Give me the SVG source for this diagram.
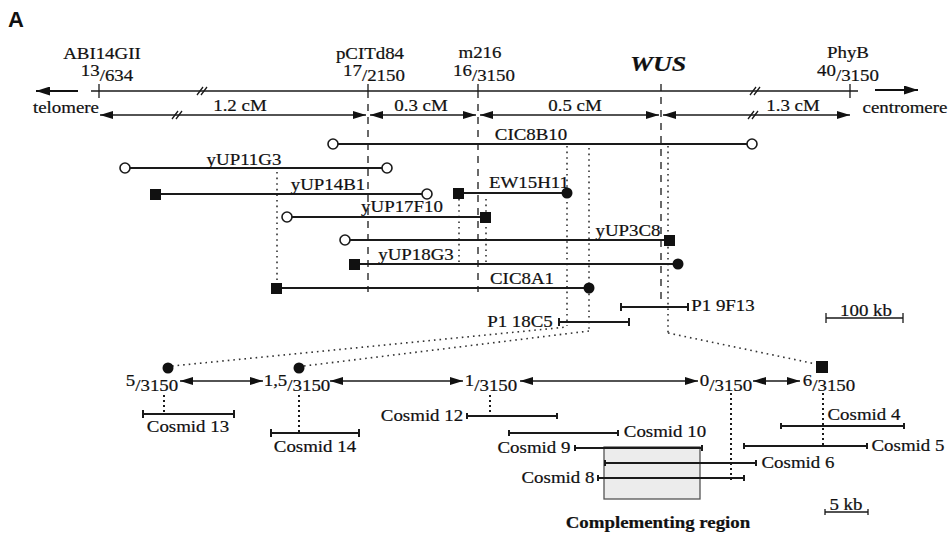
<svg xmlns="http://www.w3.org/2000/svg" width="948" height="538" viewBox="0 0 948 538">
<defs>
<style>
text{font-family:"Liberation Serif","Times New Roman",serif;font-size:16px;fill:#111;stroke:#111;stroke-width:0.2;text-anchor:middle;transform-box:fill-box;transform-origin:center;transform:scaleX(1.18)}
.big{font-size:22px;font-weight:bold;font-style:italic}
.bold{font-weight:bold}
.panel{font-family:"Liberation Sans",Arial,sans-serif;font-size:22px;font-weight:bold;text-anchor:start;transform:none;stroke:none}
.ln{stroke:#1a1a1a;stroke-width:1.3;fill:none}
.clone{stroke:#1a1a1a;stroke-width:2;fill:none}
.dash{stroke:#1a1a1a;stroke-width:1.3;fill:none;stroke-dasharray:7 6}
.dot{stroke:#333;stroke-width:1.6;fill:none;stroke-dasharray:1.6 4}
.dot2{stroke:#1a1a1a;stroke-width:2;fill:none;stroke-dasharray:2 3}
.oc{fill:#fff;stroke:#1a1a1a;stroke-width:1.6}
.fc{fill:#111}
.arr{stroke:#1a1a1a;stroke-width:1.4;fill:none;marker-start:url(#ah);marker-end:url(#ah)}
</style>
<marker id="ah" viewBox="0 0 13 8" refX="13" refY="4" markerWidth="13" markerHeight="8" markerUnits="userSpaceOnUse" orient="auto-start-reverse">
<path d="M0,0 L13,4 L0,8 z" fill="#111"/>
</marker>
<marker id="ahe" viewBox="0 0 14 9" refX="14" refY="4.5" markerWidth="14" markerHeight="9" markerUnits="userSpaceOnUse" orient="auto">
<path d="M0,0 L14,4.5 L0,9 z" fill="#111"/>
</marker>
</defs>
<rect width="948" height="538" fill="#fff"/>
<text class="panel" x="8" y="27">A</text>

<g id="genetic-map">
<line class="ln" x1="91" y1="91" x2="858" y2="91"/>
<line class="ln" x1="99" y1="84" x2="99" y2="98"/>
<line class="ln" x1="368" y1="84" x2="368" y2="98"/>
<line class="ln" x1="478" y1="84" x2="478" y2="98"/>
<line class="ln" x1="850" y1="84" x2="850" y2="98"/>
<path class="ln" d="M197,95 L203,87 M201,95 L207,87 M750,95 L756,87 M754,95 L760,87"/>
<line x1="78" y1="91" x2="36" y2="91" stroke="#111" stroke-width="2" marker-end="url(#ahe)"/>
<line x1="875" y1="90" x2="918" y2="90" stroke="#111" stroke-width="2" marker-end="url(#ahe)"/>
<text x="66" y="113">telomere</text>
<text x="905" y="113">centromere</text>
<text x="102" y="59">ABI14GII</text>
<text x="107" y="81"><tspan dy="-5">13</tspan><tspan dy="5">/634</tspan></text>
<text x="370" y="59">pCITd84</text>
<text x="374" y="81"><tspan dy="-5">17</tspan><tspan dy="5">/2150</tspan></text>
<text x="480" y="58">m216</text>
<text x="484" y="81"><tspan dy="-5">16</tspan><tspan dy="5">/3150</tspan></text>
<text class="big" x="658" y="71">WUS</text>
<text x="848" y="58">PhyB</text>
<text x="848" y="81"><tspan dy="-5">40</tspan><tspan dy="5">/3150</tspan></text>
</g>

<g id="distances">
<line class="arr" x1="100" y1="115" x2="366" y2="115"/>
<line class="arr" x1="370" y1="115" x2="476" y2="115"/>
<line class="arr" x1="480" y1="115" x2="659" y2="115"/>
<line class="arr" x1="663" y1="115" x2="850" y2="115"/>
<path class="ln" d="M172,119 L178,111 M176,119 L182,111 M748,119 L754,111 M752,119 L758,111"/>
<text x="240" y="111">1.2 cM</text>
<text x="421" y="111">0.3 cM</text>
<text x="575" y="111">0.5 cM</text>
<text x="793" y="111">1.3 cM</text>
</g>

<g id="connectors">
<line class="dash" x1="368" y1="104" x2="368" y2="292"/>
<line class="dash" x1="478" y1="104" x2="478" y2="292"/>
<line class="dash" x1="661" y1="84" x2="661" y2="300"/>
<line class="dot" x1="277" y1="172" x2="277" y2="283"/>
<line class="dot" x1="459" y1="199" x2="459" y2="262"/>
<line class="dot" x1="486" y1="199" x2="486" y2="262"/>
<line class="dot" x1="567" y1="146" x2="567" y2="326"/>
<line class="dot" x1="589" y1="148" x2="589" y2="330"/>
<line class="dot" x1="668" y1="146" x2="668" y2="333"/>
<line class="dot" x1="172" y1="366" x2="567" y2="327"/>
<line class="dot" x1="304" y1="366" x2="589" y2="331"/>
<line class="dot" x1="668" y1="333" x2="816" y2="364"/>
<line class="dot2" x1="164" y1="395" x2="164" y2="413"/>
<line class="dot2" x1="299" y1="395" x2="299" y2="432"/>
<line class="dot2" x1="490" y1="395" x2="490" y2="416"/>
<line class="dot2" x1="731" y1="393" x2="731" y2="480"/>
<line class="dot2" x1="823" y1="393" x2="823" y2="446"/>
</g>

<g id="CIC8B10">
<line class="clone" x1="333" y1="144" x2="752" y2="144"/>
<circle class="oc" cx="333" cy="144" r="5"/><circle class="oc" cx="752" cy="144" r="5"/>
<text x="531" y="140">CIC8B10</text>
</g>
<g id="yUP11G3">
<line class="clone" x1="125" y1="168" x2="387" y2="168"/>
<circle class="oc" cx="125" cy="168" r="5"/><circle class="oc" cx="387" cy="168" r="5"/>
<text x="244" y="165">yUP11G3</text>
</g>
<g id="yUP14B1">
<line class="clone" x1="155" y1="194" x2="427" y2="194"/>
<rect class="fc" x="150" y="189" width="11" height="11"/><circle class="oc" cx="427" cy="194" r="5"/>
<text x="328" y="190">yUP14B1</text>
</g>
<g id="EW15H11">
<line class="clone" x1="458" y1="193" x2="567" y2="193"/>
<rect class="fc" x="453" y="188" width="11" height="11"/><circle class="fc" cx="567" cy="193" r="5.5"/>
<text x="529" y="188">EW15H11</text>
</g>
<g id="yUP17F10">
<line class="clone" x1="287" y1="217" x2="485" y2="217"/>
<circle class="oc" cx="287" cy="217" r="5"/><rect class="fc" x="480" y="212" width="11" height="11"/>
<text x="402" y="212">yUP17F10</text>
</g>
<g id="yUP3C8">
<line class="clone" x1="345" y1="240" x2="669" y2="240"/>
<circle class="oc" cx="345" cy="240" r="5"/><rect class="fc" x="664" y="235" width="11" height="11"/>
<text x="628" y="236">yUP3C8</text>
</g>
<g id="yUP18G3">
<line class="clone" x1="354" y1="264" x2="678" y2="264"/>
<rect class="fc" x="349" y="259" width="11" height="11"/><circle class="fc" cx="678" cy="264" r="5.5"/>
<text x="416" y="260">yUP18G3</text>
</g>
<g id="CIC8A1">
<line class="clone" x1="276" y1="288" x2="589" y2="288"/>
<rect class="fc" x="271" y="283" width="11" height="11"/><circle class="fc" cx="589" cy="288" r="5.5"/>
<text x="522" y="284">CIC8A1</text>
</g>
<g id="P1-9F13">
<path class="clone" d="M621,307 H688 M621,303 V311 M688,303 V311"/>
<text x="723" y="311">P1 9F13</text>
</g>
<g id="P1-18C5">
<path class="clone" d="M559,322 H629 M559,318 V326 M629,318 V326"/>
<text x="520" y="327">P1 18C5</text>
</g>
<g id="scale-100kb">
<path class="ln" d="M826,318 H903 M826,313 V323 M903,313 V323"/>
<text x="866" y="316">100 kb</text>
</g>

<g id="markers-fine">
<circle class="fc" cx="168" cy="368" r="5.5"/>
<circle class="fc" cx="299" cy="368" r="5.5"/>
<rect class="fc" x="816" y="361" width="12" height="12"/>
<line class="arr" x1="180" y1="381" x2="263" y2="381"/>
<line class="arr" x1="330" y1="381" x2="463" y2="381"/>
<line class="arr" x1="520" y1="381" x2="698" y2="381"/>
<line class="arr" x1="753" y1="381" x2="800" y2="381"/>
<text x="152" y="391"><tspan dy="-5">5</tspan><tspan dy="5">/3150</tspan></text>
<text x="297" y="391"><tspan dy="-5">1,5</tspan><tspan dy="5">/3150</tspan></text>
<text x="491" y="391"><tspan dy="-5">1</tspan><tspan dy="5">/3150</tspan></text>
<text x="726" y="391"><tspan dy="-5">0</tspan><tspan dy="5">/3150</tspan></text>
<text x="829" y="391"><tspan dy="-5">6</tspan><tspan dy="5">/3150</tspan></text>
</g>

<g id="complementing-region">
<rect x="604" y="447" width="96" height="52" fill="#ececec" stroke="#555" stroke-width="1.3"/>
<text class="bold" x="658" y="528">Complementing region</text>
</g>

<g id="cosmid-13"><path class="clone" d="M143,414 H234 M143,410 V418 M234,410 V418"/><text x="188" y="432">Cosmid 13</text></g>
<g id="cosmid-14"><path class="clone" d="M271,433 H359 M271,429 V437 M359,429 V437"/><text x="315" y="452">Cosmid 14</text></g>
<g id="cosmid-12"><path class="clone" d="M467,416 H557 M467,413 V419 M557,413 V419"/><text x="422" y="421">Cosmid 12</text></g>
<g id="cosmid-10"><path class="clone" d="M509,433 H618 M509,430 V436 M618,430 V436"/><text x="665" y="437">Cosmid 10</text></g>
<g id="cosmid-9"><path class="clone" d="M575,448 H702 M575,445 V451 M702,445 V451"/><text x="534" y="453">Cosmid 9</text></g>
<g id="cosmid-6"><path class="clone" d="M605,463 H756 M605,460 V466 M756,460 V466"/><text x="798" y="468">Cosmid 6</text></g>
<g id="cosmid-8"><path class="clone" d="M598,478 H744 M598,475 V481 M744,475 V481"/><text x="558" y="483">Cosmid 8</text></g>
<g id="cosmid-4"><path class="clone" d="M781,426 H904 M781,423 V429 M904,423 V429"/><text x="864" y="420">Cosmid 4</text></g>
<g id="cosmid-5"><path class="clone" d="M744,446 H867 M744,443 V449 M867,443 V449"/><text x="908" y="451">Cosmid 5</text></g>
<g id="scale-5kb"><path class="ln" d="M825,512 H868 M825,509 V515 M868,509 V515"/><text x="846" y="510">5 kb</text></g>
</svg>
